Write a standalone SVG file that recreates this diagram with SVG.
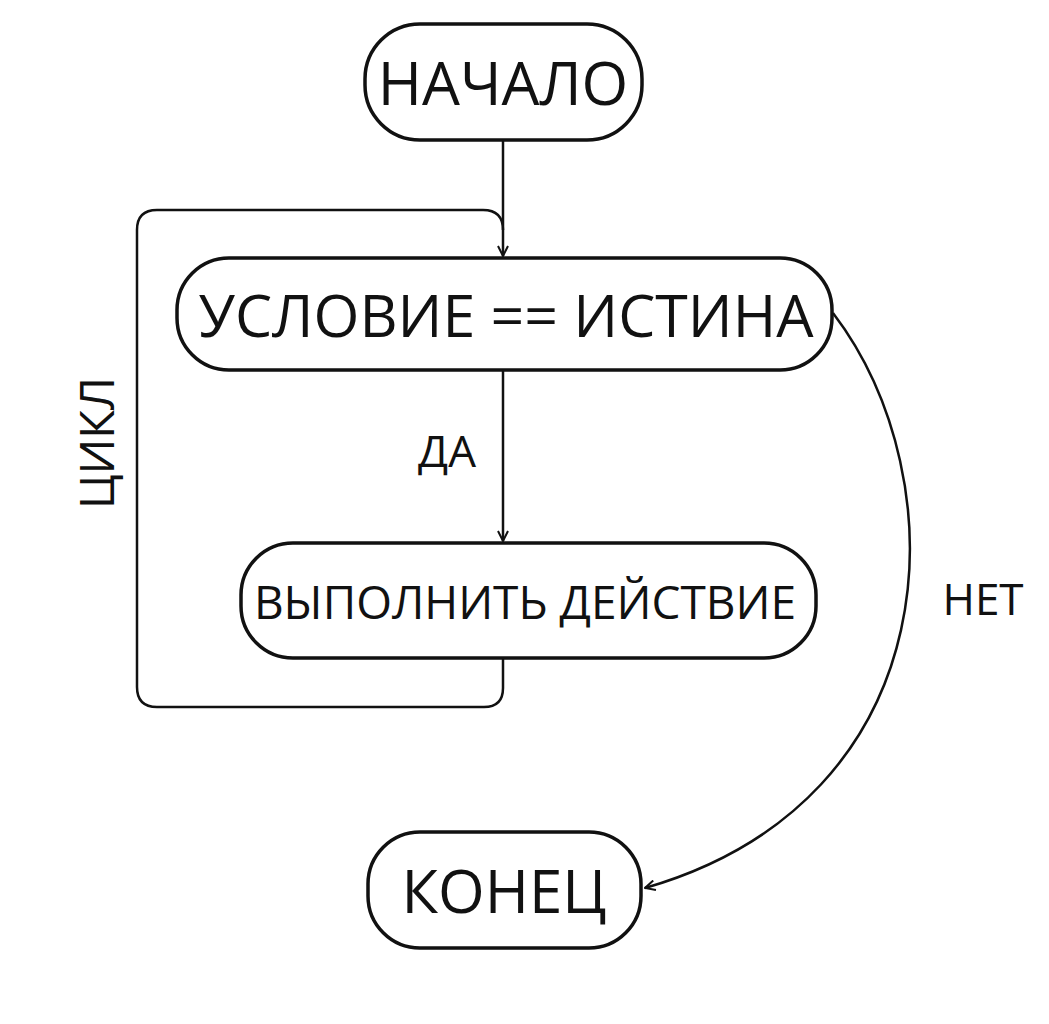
<svg xmlns="http://www.w3.org/2000/svg" width="1049" height="1024" viewBox="0 0 1049 1024">
<defs>
<style>
.n{fill:#fff;stroke:#111;stroke-width:3.5}
.t{font-family:"Open Sans","Noto Sans",sans-serif;fill:#111;text-anchor:middle;dominant-baseline:central}
.c{fill:none;stroke:#111;stroke-width:2.5}
</style>
<marker id="a" viewBox="0 0 12 12" refX="11" refY="6" markerWidth="12" markerHeight="12" markerUnits="userSpaceOnUse" orient="auto">
<path d="M1,1 L11,6 L1,11" fill="none" stroke="#111" stroke-width="2"/>
</marker>
</defs>
<rect width="1049" height="1024" fill="#fff"/>
<g id="connectors">
<path class="c" d="M503,140 V256" marker-end="url(#a)"/>
<path class="c" d="M503,370 V541" marker-end="url(#a)"/>
<path class="c" d="M503,658 V688 Q503,707 484,707 H157 Q137,707 137,687 V230 Q137,210 157,210 H483 Q503,210 503,230"/>
<path class="c" d="M833,313 C960,480 950,800 645,888" marker-end="url(#a)"/>
<text class="t" x="447" y="450" font-size="44">ДА</text>
<text class="t" x="983" y="598" font-size="44">НЕТ</text>
<text class="t" font-size="47" transform="translate(96,443) rotate(-90)">ЦИКЛ</text>
</g>
<g id="start"><rect class="n" x="365" y="24" width="277" height="116" rx="55"/><text class="t" x="503" y="82" font-size="60">НАЧАЛО</text></g>
<g id="cond"><rect class="n" x="177" y="258" width="655" height="112" rx="52"/><text class="t" x="506" y="314" font-size="59">УСЛОВИЕ == ИСТИНА</text></g>
<g id="action"><rect class="n" x="241" y="543" width="575" height="115" rx="52"/><text class="t" x="525" y="601" font-size="46">ВЫПОЛНИТЬ ДЕЙСТВИЕ</text></g>
<g id="end"><rect class="n" x="368" y="832" width="273" height="116" rx="52"/><text class="t" x="504" y="890" font-size="60">КОНЕЦ</text></g>
</svg>
